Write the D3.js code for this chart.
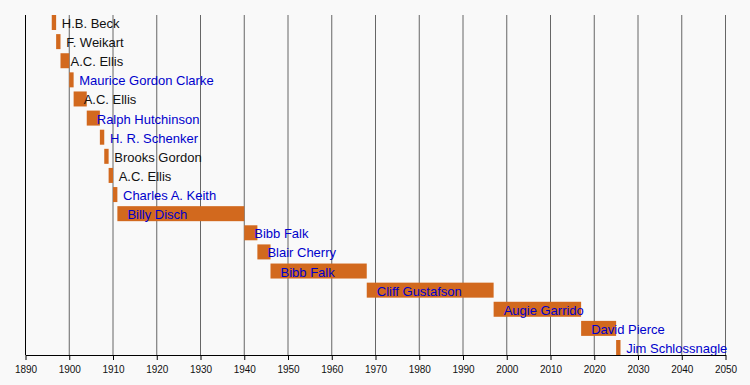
<!DOCTYPE html>
<html>
<head>
<meta charset="utf-8">
<script src="https://cdn.jsdelivr.net/npm/d3@7"></script>
<style>
  body { margin: 0; background: #f9f9f9; }
  svg { display: block; font-family: Arial, "Liberation Sans", sans-serif; }
</style>
</head>
<body>
<svg class="timeline"></svg>
<script>
// coaches, in order top to bottom
const names = [
  'H.B. Beck', 'F. Weikart', 'A.C. Ellis', 'Maurice Gordon Clarke', 'A.C. Ellis',
  'Ralph Hutchinson', 'H. R. Schenker', 'Brooks Gordon', 'A.C. Ellis', 'Charles A. Keith',
  'Billy Disch', 'Bibb Falk', 'Blair Cherry', 'Bibb Falk', 'Cliff Gustafson',
  'Augie Garrido', 'David Pierce', 'Jim Schlossnagle'
];
const startYears = [1896, 1897, 1898, 1900, 1901, 1904, 1907, 1908, 1909, 1910,
  1911, 1940, 1943, 1946, 1968, 1997, 2017, 2025];
const endYears = [1897, 1898, 1900, 1901, 1904, 1907, 1908, 1909, 1910, 1911,
  1940, 1943, 1946, 1968, 1997, 2017, 2025, 2026];
const linked = [false, false, false, true, false, true, true, false, false, true,
  true, true, true, true, true, true, true, true];
const tickYears = d3.range(1890, 2051, 10);

const width = 750;
const height = 385;
const plotLeft = 25.5;
const plotRight = 725.5;
const plotTop = 15;
const plotBase = 355;

const x = d3.scaleLinear().domain([1890, 2050]).range([plotLeft, plotRight]);
const y = d3.scalePoint().domain(d3.range(names.length)).range([22.5, 347.5]);
const barH = 15;

const svg = d3.select('.timeline')
  .attr('width', width)
  .attr('height', height);

svg.append('rect').attr('width', width).attr('height', height).attr('fill', '#f9f9f9');

// grid lines
svg.append('g')
  .selectAll('line')
  .data(tickYears.slice(1))
  .enter()
  .append('line')
  .attr('x1', (d) => x(d))
  .attr('x2', (d) => x(d))
  .attr('y1', plotTop)
  .attr('y2', plotBase)
  .attr('stroke', '#666')
  .attr('stroke-width', 1);

svg.append('line')
  .attr('x1', x(1890)).attr('x2', x(1890))
  .attr('y1', plotTop).attr('y2', plotBase)
  .attr('stroke', '#000');

// bars
svg.append('g')
  .selectAll('rect')
  .data(names)
  .enter()
  .append('rect')
  .attr('x', (d, i) => x(startYears[i]))
  .attr('y', (d, i) => y(i) - barH / 2)
  .attr('width', (d, i) => x(endYears[i]) - x(startYears[i]))
  .attr('height', barH)
  .attr('fill', '#d2691e');

// labels
svg.append('g')
  .selectAll('text')
  .data(names)
  .enter()
  .append('text')
  .attr('x', (d, i) => x(startYears[i]) + 10)
  .attr('y', (d, i) => y(i) + 5.5)
  .attr('font-size', 13)
  .attr('fill', (d, i) => linked[i] ? '#0000cc' : '#111')
  .text((d) => d);

const xAxis = d3.axisBottom(x)
  .tickValues(tickYears)
  .tickFormat(d3.format('d'))
  .tickSize(5)
  .tickSizeOuter(0)
  .tickPadding(6);

const ax = svg.append('g')
  .attr('transform', 'translate(0,' + plotBase + ')')
  .call(xAxis);
ax.selectAll('text').attr('font-size', 10).attr('font-family', 'Arial, "Liberation Sans", sans-serif').attr('fill', '#111');
ax.selectAll('line, path').attr('stroke', '#000');
</script>
</body>
</html>
